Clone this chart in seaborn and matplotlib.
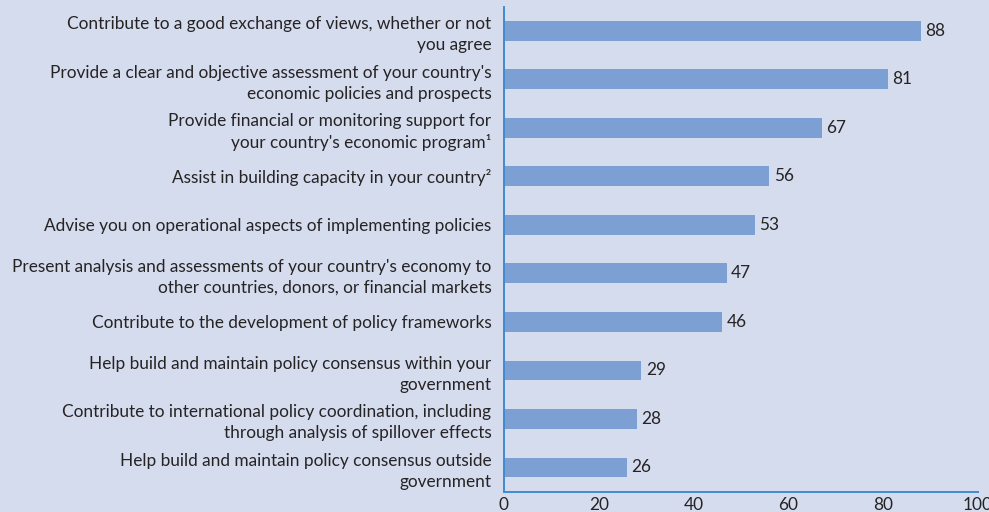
import matplotlib
matplotlib.use("Agg")
import matplotlib.pyplot as plt
import seaborn as sns
import pandas as pd

# Survey responses: share of respondents (percent)
categories = [
    "Contribute to a good exchange of views, whether or not\nyou agree",
    "Provide a clear and objective assessment of your country's\neconomic policies and prospects",
    "Provide financial or monitoring support for\nyour country's economic program\u00b9",
    "Assist in building capacity in your country\u00b2",
    "Advise you on operational aspects of implementing policies",
    "Present analysis and assessments of your country's economy to\nother countries, donors, or financial markets",
    "Contribute to the development of policy frameworks",
    "Help build and maintain policy consensus within your\ngovernment",
    "Contribute to international policy coordination, including\nthrough analysis of spillover effects",
    "Help build and maintain policy consensus outside\ngovernment",
]
values = [88, 81, 67, 56, 53, 47, 46, 29, 28, 26]
x_ticks = [0, 20, 40, 60, 80, 100]

BG = "#d5dcee"
BAR = "#7ca0d3"
AXIS = "#3f8ad0"
TEXT = "#262324"
FS = 12.4

sns.set_theme(style="white")
plt.rcParams["font.family"] = ["Lato", "DejaVu Sans"]

df = pd.DataFrame({"category": categories, "value": values})

fig = plt.figure(figsize=(9.89, 5.12), dpi=100)
fig.patch.set_facecolor(BG)
ax = fig.add_axes([0.5096, 0.0396, 0.4793, 0.9474])
ax.set_facecolor(BG)

sns.barplot(data=df, x="value", y="category", color=BAR, saturation=1,
            width=0.41, orient="h", edgecolor="none", linewidth=0, ax=ax)

for i, v in enumerate(values):
    ax.text(v + 0.9, i, f"{v}", va="center", ha="left",
            fontsize=FS, color=TEXT)

ax.set_xlim(0, 100)
ax.set_ylim(9.5, -0.5)
ax.set_xticks(x_ticks)
ax.set_xticklabels([str(t) for t in x_ticks], fontsize=FS, color=TEXT)
ax.set_xlabel("")
ax.set_ylabel("")

for lbl in ax.get_yticklabels():
    lbl.set_fontsize(FS)
    lbl.set_color(TEXT)
    lbl.set_linespacing(1.38)
    lbl.set_horizontalalignment("right")

for side in ("top", "right"):
    ax.spines[side].set_visible(False)
for side in ("left", "bottom"):
    ax.spines[side].set_color(AXIS)
    ax.spines[side].set_linewidth(1.4)

ax.tick_params(axis="x", direction="in", length=4, width=1.2, color=AXIS, pad=4)
ax.tick_params(axis="y", length=0, pad=9)

fig.savefig("out.png", dpi=100, facecolor=BG)
